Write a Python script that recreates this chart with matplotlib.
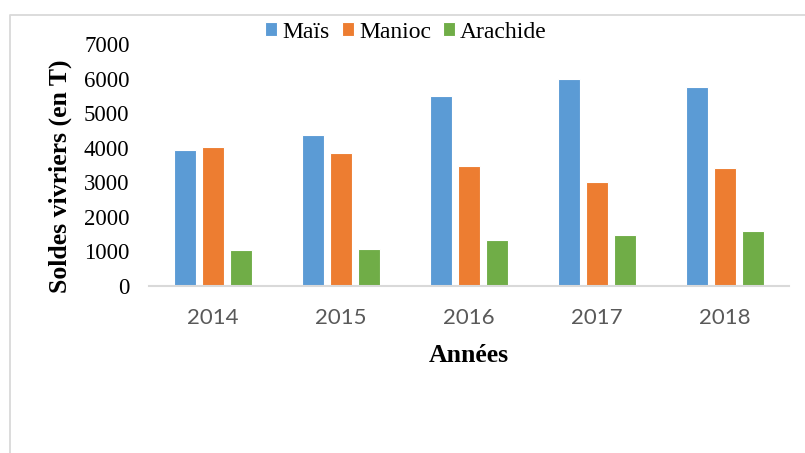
import matplotlib
matplotlib.use("Agg")
import matplotlib.pyplot as plt
from matplotlib.lines import Line2D
import numpy as np

years = ["2014", "2015", "2016", "2017", "2018"]
mais = [3920, 4370, 5500, 6000, 5760]
manioc = [4020, 3850, 3480, 3020, 3410]
arachide = [1040, 1070, 1330, 1470, 1600]
series_names = ["Maïs", "Manioc", "Arachide"]
colors = ["#5B9BD5", "#ED7D31", "#70AD47"]

W, H = 805, 453
fig = plt.figure(figsize=(W / 100, H / 100), dpi=100)
fig.patch.set_facecolor("white")

# plot area in pixel coordinates
x0, x1 = 149, 789
ytop, ybot = 44, 286
ax = fig.add_axes([x0 / W, 1 - ybot / H, (x1 - x0) / W, (ybot - ytop) / H])

x = np.arange(len(years))
off = 0.217
bw = 0.176
for i, (vals, name, c) in enumerate(zip([mais, manioc, arachide], series_names, colors)):
    ax.bar(x + (i - 1) * off, vals, width=bw, color=c, edgecolor="white",
           linewidth=0.8, label=name, zorder=3)

ax.set_xlim(-0.5, len(years) - 0.5)
ax.set_ylim(0, 7000)
ax.set_yticks(range(0, 7001, 1000))
ax.set_yticklabels([str(v) for v in range(0, 7001, 1000)],
                   fontfamily="Liberation Serif", fontsize=16.5, color="black")
ax.set_xticks(x)
ax.set_xticklabels(years, fontfamily="Lato", fontsize=16, color="#595959")
ax.tick_params(axis="y", length=0, pad=14)
ax.tick_params(axis="x", length=0, pad=16)
for s in ["top", "right", "left"]:
    ax.spines[s].set_visible(False)
ax.spines["bottom"].set_color("#d9d9d9")
ax.spines["bottom"].set_linewidth(1.5)
ax.spines["bottom"].set_zorder(4)

fig.text(469 / W, 1 - 355 / H, "Années", fontfamily="Liberation Serif",
         fontweight="bold", fontsize=18.5, ha="center", va="center")
fig.text(60 / W, 1 - 176 / H, "Soldes vivriers (en T)", fontfamily="Liberation Serif",
         fontweight="bold", fontsize=18.5, ha="center", va="center", rotation=90)

leg = fig.legend(loc="center", bbox_to_anchor=(406 / W, 1 - 32 / H), ncol=3,
                 frameon=False, prop={"family": "Liberation Serif", "size": 17},
                 handlelength=0.52, handleheight=0.52, handletextpad=0.22,
                 columnspacing=0.5, borderpad=0, borderaxespad=0)

# chart-area border (top and left visible)
fig.add_artist(Line2D([10 / W, 10 / W, 1.0], [0.0, 1 - 15 / H, 1 - 15 / H],
                      color="#d9d9d9", linewidth=1.3))

fig.savefig("out.png", dpi=100, facecolor="white")
